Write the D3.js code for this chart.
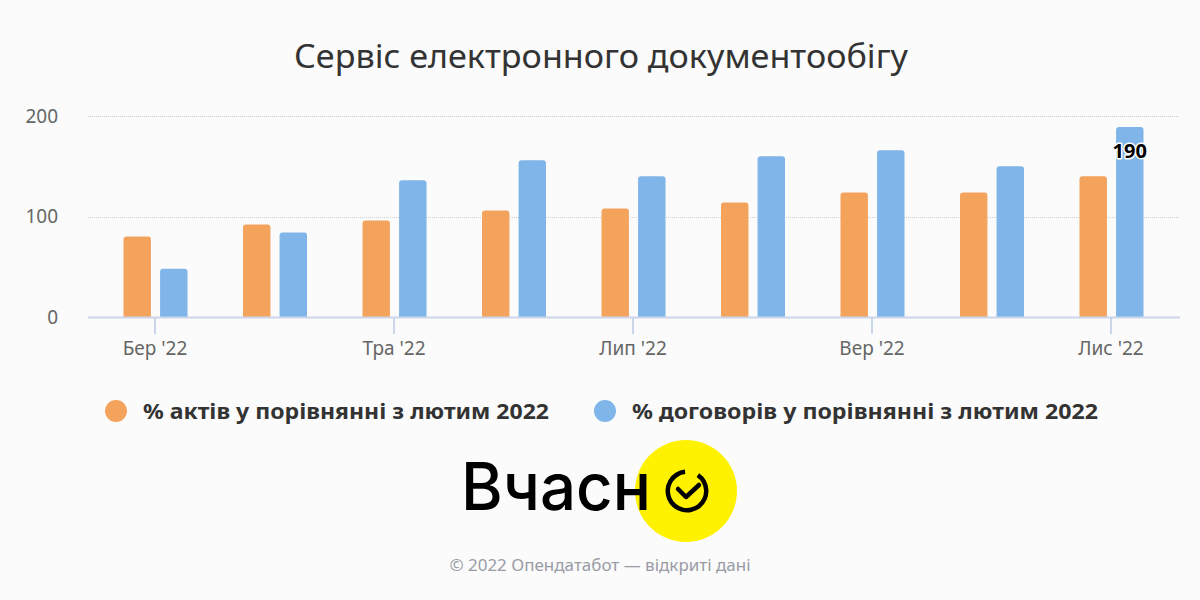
<!DOCTYPE html>
<html><head><meta charset="utf-8">
<script src="https://cdn.jsdelivr.net/npm/d3@7"></script>
<style>
html,body{margin:0;padding:0;background:#fafbfa;}
svg{display:block;font-family:"Noto Sans","Open Sans",sans-serif;}
</style></head>
<body>
<svg id="chart" width="1200" height="600"></svg>
<script>
const title = "Сервіс електронного документообігу";
const months = ["Бер '22","Кві '22","Тра '22","Чер '22","Лип '22","Сер '22","Вер '22","Жов '22","Лис '22"];
const tickMonths = ["Бер '22","Тра '22","Лип '22","Вер '22","Лис '22"];
const assets = [80, 92, 96, 106, 108, 114, 124, 124, 140];
const contracts = [48, 84, 136, 156, 140, 160, 166, 150, 189];
const seriesNames = ["% актів у порівнянні з лютим 2022", "% договорів у порівнянні з лютим 2022"];
const seriesColors = ["#f4a35d", "#7fb5e8"];
const yTicks = [0, 100, 200];
const footer = "© 2022 Опендатабот — відкриті дані";

const svg = d3.select("#chart");
svg.append("rect").attr("width",1200).attr("height",600).attr("fill","#fafbfa");

svg.append("text").attr("x",601).attr("y",68).attr("text-anchor","middle")
  .attr("font-size",33).attr("fill","#333").attr("textLength",614).attr("lengthAdjust","spacingAndGlyphs").text(title);

const plotL = 88, plotR = 1180;
const x = d3.scaleBand().domain(months).range([95.25, 1170.75]).paddingInner(0).paddingOuter(0);
const y = d3.scaleLinear().domain([0,200]).range([317,116]);
const xs = d3.scaleBand().domain([0,1]).range([0, 64]).paddingInner(8/64*2).paddingOuter(0);

// gridlines
const g = svg.append("g");
g.selectAll("line.grid").data(yTicks.filter(d=>d>0)).join("line")
  .attr("x1",plotL).attr("x2",plotR).attr("y1",d=>Math.round(y(d))+0.5).attr("y2",d=>Math.round(y(d))+0.5)
  .attr("stroke","#cfcfcf").attr("stroke-dasharray","1,1");

// y axis labels
const yAxis = d3.axisLeft(y).tickValues(yTicks).tickSize(0).tickPadding(0);
const ya = svg.append("g").attr("transform",`translate(58,0)`).call(yAxis);
ya.select(".domain").remove();
ya.selectAll("text").attr("font-size",19).attr("fill","#666").attr("font-family","Noto Sans, sans-serif").attr("dy","0.34em");

// bars
function roundTop(x0,y0,w,h,r){
  r=Math.min(r,h);
  return `M${x0},${y0+h}V${y0+r}Q${x0},${y0} ${x0+r},${y0}H${x0+w-r}Q${x0+w},${y0} ${x0+w},${y0+r}V${y0+h}Z`;
}
const data = months.map((m,i)=>({m, vals:[assets[i], contracts[i]]}));
const groups = svg.append("g").selectAll("g").data(data).join("g")
  .attr("transform",d=>`translate(${x(d.m)+x.bandwidth()/2-31.5},0)`);
groups.selectAll("path").data(d=>d.vals.map((v,k)=>({v,k}))).join("path")
  .attr("d",d=>roundTop(xs(d.k), y(d.v), xs.bandwidth(), y(0)-y(d.v), 3))
  .attr("fill",d=>seriesColors[d.k]);

// x axis
svg.append("line").attr("x1",plotL).attr("x2",plotR).attr("y1",317.5).attr("y2",317.5)
  .attr("stroke","#ccd6eb").attr("stroke-width",2);
const xAxis = d3.axisBottom(x).tickValues(tickMonths).tickSize(16).tickPadding(8);
const xa = svg.append("g").attr("transform","translate(0,318)").call(xAxis);
xa.select(".domain").remove();
xa.selectAll("line").attr("stroke","#ccd6eb").attr("stroke-width",2);
xa.selectAll("text").attr("font-size",19).attr("fill","#666").attr("font-family","Noto Sans, sans-serif");

// data label on last blue bar
const last = months.length-1;
const lx = x(months[last]) + x.bandwidth()/2 - 31.5 + xs(1) + xs.bandwidth()/2;
const lbl = d3.format(".2r")(contracts[last]);
svg.append("text").attr("x",lx).attr("y",y(contracts[last])+31).attr("text-anchor","middle")
  .attr("font-size",20).attr("font-weight","bold").attr("fill","#000")
  .attr("stroke","#fff").attr("stroke-width",3).attr("paint-order","stroke").attr("stroke-linejoin","round")
  .text(lbl);

// legend
const legendX = [116, 605];
const legendW = [406, 466];
const lg = svg.append("g").selectAll("g").data(seriesNames).join("g")
  .attr("transform",(d,i)=>`translate(${legendX[i]},411)`);
lg.append("circle").attr("r",11).attr("fill",(d,i)=>seriesColors[i]);
lg.append("text").attr("x",27).attr("y",8).attr("font-size",22).attr("font-weight","bold")
  .attr("fill","#333").attr("textLength",(d,i)=>legendW[i]).attr("lengthAdjust","spacingAndGlyphs").text(d=>d);

// logo
const logo = svg.append("g");
logo.append("circle").attr("cx",686).attr("cy",491).attr("r",51).attr("fill","#fff200");
logo.append("text").attr("x",461).attr("y",510).attr("font-size",66).attr("font-weight",500)
  .attr("font-family","Inter, sans-serif").attr("fill","#000").attr("textLength",190)
  .attr("lengthAdjust","spacingAndGlyphs").text("Вчасн");
const arc = d3.arc().innerRadius(17).outerRadius(21.5).startAngle(0.6).endAngle(2*Math.PI - 0.1);
logo.append("path").attr("d",arc()).attr("transform","translate(687,491)").attr("fill","#000");
logo.append("path").attr("d","M678,489 L686,497 L699,485").attr("fill","none").attr("stroke","#000")
  .attr("stroke-width",4.5).attr("stroke-linecap","round").attr("stroke-linejoin","round");

svg.append("text").attr("x",600).attr("y",571).attr("text-anchor","middle")
  .attr("font-size",17).attr("fill","#9b9ba6").text(footer);
</script>
</body></html>
